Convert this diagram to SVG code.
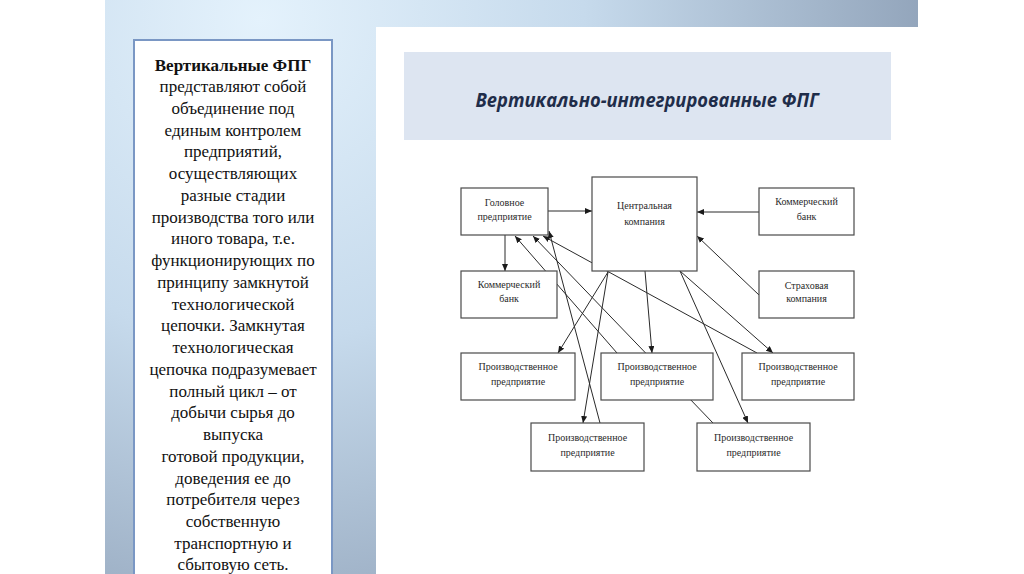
<svg xmlns="http://www.w3.org/2000/svg" width="1024" height="574" viewBox="0 0 1024 574">
<defs>
<radialGradient id="slideBg" cx="260" cy="20" r="720" gradientUnits="userSpaceOnUse">
<stop offset="0" stop-color="#e4f2fc"/>
<stop offset="0.45" stop-color="#c6daec"/>
<stop offset="1" stop-color="#8a9cb3"/>
</radialGradient>
<marker id="arr" markerWidth="8" markerHeight="6" refX="7" refY="3" orient="auto" markerUnits="userSpaceOnUse">
<path d="M0,0 L7,3 L0,6 z" fill="#1a1a1a"/>
</marker>
</defs>
<style>
.node rect{fill:#ffffff;stroke:#4a4a4a;stroke-width:1.2}
.node text{font-family:"Liberation Serif","Times New Roman",serif;font-size:10px;fill:#2a2a2a;text-anchor:middle}
.conn line{stroke:#2a2a2a;stroke-width:1;marker-end:url(#arr)}
.conn line.plain{marker-end:none}
.lt{font-family:"Liberation Serif","Times New Roman",serif;font-size:17px;fill:#111;text-anchor:middle}
</style>
<rect x="0" y="0" width="1024" height="574" fill="#ffffff"/>
<rect x="105" y="0" width="813" height="574" fill="url(#slideBg)"/>
<rect x="376" y="27" width="542" height="547" fill="#ffffff"/>
<g id="title">
<rect x="404" y="52" width="487" height="88" fill="#dde5f1"/>
<text x="647" y="107" font-family="'Open Sans','Noto Sans',sans-serif" font-size="19" font-weight="bold" font-style="italic" fill="#1f2d4a" text-anchor="middle" textLength="343" lengthAdjust="spacingAndGlyphs">Вертикально-интегрированные ФПГ</text>
</g>
<g id="textPanel">
<rect x="134" y="40" width="198" height="540" fill="#ffffff" stroke="#7a97c4" stroke-width="2"/>
<text class="lt" x="233" y="71" font-weight="bold">Вертикальные ФПГ</text>
<text class="lt" x="233" y="92">представляют собой</text>
<text class="lt" x="233" y="114">объединение под</text>
<text class="lt" x="233" y="136">единым контролем</text>
<text class="lt" x="233" y="157">предприятий,</text>
<text class="lt" x="233" y="179">осуществляющих</text>
<text class="lt" x="233" y="201">разные стадии</text>
<text class="lt" x="233" y="223">производства того или</text>
<text class="lt" x="233" y="244">иного товара, т.е.</text>
<text class="lt" x="233" y="266">функционирующих по</text>
<text class="lt" x="233" y="288">принципу замкнутой</text>
<text class="lt" x="233" y="310">технологической</text>
<text class="lt" x="233" y="331">цепочки. Замкнутая</text>
<text class="lt" x="233" y="353">технологическая</text>
<text class="lt" x="233" y="375">цепочка подразумевает</text>
<text class="lt" x="233" y="397">полный цикл – от</text>
<text class="lt" x="233" y="418">добычи сырья до</text>
<text class="lt" x="233" y="440">выпуска</text>
<text class="lt" x="233" y="462">готовой продукции,</text>
<text class="lt" x="233" y="484">доведения ее до</text>
<text class="lt" x="233" y="505">потребителя через</text>
<text class="lt" x="233" y="527">собственную</text>
<text class="lt" x="233" y="549">транспортную и</text>
<text class="lt" x="233" y="570">сбытовую сеть.</text>
</g>
<g id="connectors" class="conn">
<line x1="548" y1="211" x2="592" y2="211"/>
<line x1="759" y1="212" x2="697" y2="212"/>
<line x1="505" y1="235" x2="505" y2="271"/>
<line x1="759" y1="295" x2="697" y2="236"/>
<line x1="608" y1="272" x2="558" y2="353"/>
<line x1="608" y1="272" x2="583" y2="423"/>
<line x1="645" y1="271" x2="652" y2="353"/>
<line x1="680" y1="271" x2="773" y2="353"/>
<line x1="680" y1="271" x2="748" y2="423"/>
<line x1="617" y1="353" x2="515" y2="236"/>
<line x1="713" y1="423" x2="533" y2="236"/>
<line x1="757" y1="353" x2="543" y2="236"/>
<line x1="600" y1="423" x2="549" y2="231"/>
</g>
<g id="n-golovnoe" class="node">
<rect x="461" y="188" width="87" height="47"/>
<text x="504.5" y="206">Головное</text>
<text x="504.5" y="220">предприятие</text>
</g>
<g id="n-central" class="node">
<rect x="592" y="177" width="105" height="94"/>
<text x="644.5" y="209">Центральная</text>
<text x="644.5" y="225">компания</text>
</g>
<g id="n-bank-right" class="node">
<rect x="759" y="188" width="95" height="47"/>
<text x="806.5" y="205">Коммерческий</text>
<text x="806.5" y="220">банк</text>
</g>
<g id="n-bank-left" class="node">
<rect x="461" y="271" width="96" height="47"/>
<text x="509" y="288">Коммерческий</text>
<text x="509" y="302">банк</text>
</g>
<g id="n-insurance" class="node">
<rect x="759" y="271" width="95" height="47"/>
<text x="806.5" y="289">Страховая</text>
<text x="806.5" y="302">компания</text>
</g>
<g id="n-prod-1" class="node">
<rect x="461" y="353" width="114" height="47"/>
<text x="518" y="370">Производственное</text>
<text x="518" y="385">предприятие</text>
</g>
<g id="n-prod-2" class="node">
<rect x="601" y="353" width="112" height="47"/>
<text x="657" y="370">Производственное</text>
<text x="657" y="385">предприятие</text>
</g>
<g id="n-prod-3" class="node">
<rect x="742" y="353" width="112" height="47"/>
<text x="798" y="370">Производственное</text>
<text x="798" y="385">предприятие</text>
</g>
<g id="n-prod-4" class="node">
<rect x="531" y="423" width="113" height="48"/>
<text x="587.5" y="441">Производственное</text>
<text x="587.5" y="456">предприятие</text>
</g>
<g id="n-prod-5" class="node">
<rect x="697" y="423" width="113" height="48"/>
<text x="753.5" y="441">Производственное</text>
<text x="753.5" y="456">предприятие</text>
</g>
</svg>
